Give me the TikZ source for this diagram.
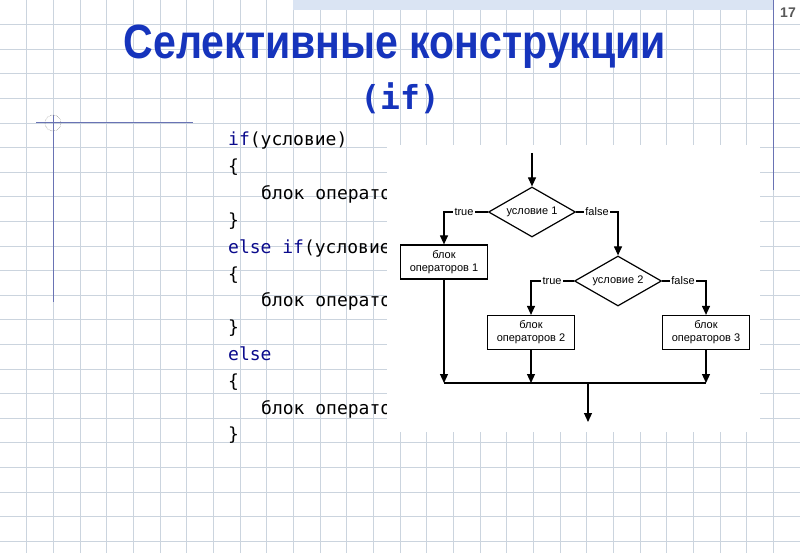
\documentclass[tikz,border=0pt]{standalone}
\usepackage{fontspec}
\setmainfont{Liberation Sans}
\setmonofont{DejaVu Sans Mono}
\newfontfamily\titlefont[FakeStretch=0.855]{Liberation Sans}
\newfontfamily\flowfont{Liberation Sans}
\usetikzlibrary{shapes.geometric,arrows.meta}
\definecolor{gridcol}{RGB}{203,212,222}
\definecolor{decocol}{RGB}{105,115,180}
\definecolor{bandcol}{RGB}{218,228,243}
\definecolor{titleblue}{RGB}{22,52,188}
\definecolor{kwblue}{RGB}{10,10,140}
\newcommand{\kw}[1]{\textcolor{kwblue}{#1}}
\tikzset{
  gridline/.style={draw=gridcol,line width=0.8pt},
  code/.style={anchor=base west,inner sep=0pt,font=\fontsize{18}{20}\ttfamily},
  cond/.style={diamond,draw,line width=1.2pt,aspect=1.74,inner sep=0pt,
    minimum width=87pt,minimum height=50pt,font=\fontsize{11}{12}\flowfont},
  blk/.style={rectangle,draw,line width=1.2pt,fill=white,align=center,
    minimum width=87pt,minimum height=34pt,inner sep=1pt,
    font=\fontsize{11}{13}\flowfont},
  lbl/.style={fill=white,inner sep=1.5pt,font=\fontsize{11}{12}\flowfont},
  link/.style={line width=1.2pt},
  flow/.style={line width=1.2pt,-{Triangle[width=8pt,length=9pt]}}
}
\begin{document}
\begin{tikzpicture}[x=1pt,y=-1pt]
  \useasboundingbox (0,0) rectangle (800,553);
  \fill[white] (0,0) rectangle (800,553);
  \foreach \gx in {1,...,29}
    \draw[gridline] ({26.67*\gx},0) -- ({26.67*\gx},553);
  \foreach \gy in {1,...,22}
    \draw[gridline] (0,{24.6*\gy}) -- (800,{24.6*\gy});
  \fill[bandcol] (293,0) rectangle (773,10);
  \draw[decocol,line width=1pt] (773,0) -- (773,190);
  \draw[decocol,line width=1pt] (36,123) -- (193,123);
  \draw[decocol,line width=1pt] (53,115) -- (53,302);
  \draw[gray,line width=0.5pt,densely dotted] (53,123) circle (8);
  \node[font=\fontsize{14}{16}\bfseries,text=black!65] (page) at (788,13) {17};
  \node[font=\fontsize{48}{52}\titlefont\bfseries,text=titleblue] (title) at (395,47) {Селективные конструкции};
  \node[font=\fontsize{33}{36}\ttfamily\bfseries,text=titleblue] (titleif) at (400,98) {(if)};
  \begin{scope}
    \clip (0,0) rectangle (387,553);
    \node[code] (c1) at (228,146) {\kw{if}(условие)};
    \node[code] (c2) at (228,172.8) {\{};
    \node[code] (c3) at (261,199.6) {блок операторов 1};
    \node[code] (c4) at (228,226.4) {\}};
    \node[code] (c5) at (228,253.2) {\kw{else} \kw{if}(условие)};
    \node[code] (c6) at (228,280) {\{};
    \node[code] (c7) at (261,306.8) {блок операторов 2};
    \node[code] (c8) at (228,333.6) {\}};
    \node[code] (c9) at (228,360.4) {\kw{else}};
    \node[code] (c10) at (228,387.2) {\{};
    \node[code] (c11) at (261,414) {блок операторов 3};
    \node[code] (c12) at (228,440.8) {\}};
  \end{scope}
  \fill[white] (387,145) rectangle (760,432);
  \coordinate (in) at (532,153);
  \node[cond] (cond1) at (532,212) {условие 1};
  \node[lbl] (true1) at (464,212) {true};
  \node[lbl] (false1) at (597,212) {false};
  \node[blk] (blk1) at (444,262) {блок\\операторов 1};
  \node[cond] (cond2) at (618,281) {условие 2};
  \node[lbl] (true2) at (552,281) {true};
  \node[lbl] (false2) at (683,281) {false};
  \node[blk] (blk2) at (531,332.5) {блок\\операторов 2};
  \node[blk] (blk3) at (706,332.5) {блок\\операторов 3};
  \coordinate (m1) at (444,383);
  \coordinate (m2) at (531,383);
  \coordinate (m3) at (706,383);
  \coordinate (mc) at (588,383);
  \coordinate (out) at (588,422);
  \draw[flow] (in) -- (cond1);
  \draw[link] (cond1.west) -- (true1);
  \draw[flow] (true1) -| (blk1);
  \draw[link] (cond1.east) -- (false1);
  \draw[flow] (false1) -| (cond2);
  \draw[link] (cond2.west) -- (true2);
  \draw[flow] (true2) -| (blk2);
  \draw[link] (cond2.east) -- (false2);
  \draw[flow] (false2) -| (blk3);
  \draw[flow] (blk1) -- (m1);
  \draw[flow] (blk2) -- (m2);
  \draw[flow] (blk3) -- (m3);
  \draw[link] (m1) -- (m3);
  \draw[flow] (mc) -- (out);
\end{tikzpicture}
\end{document}
